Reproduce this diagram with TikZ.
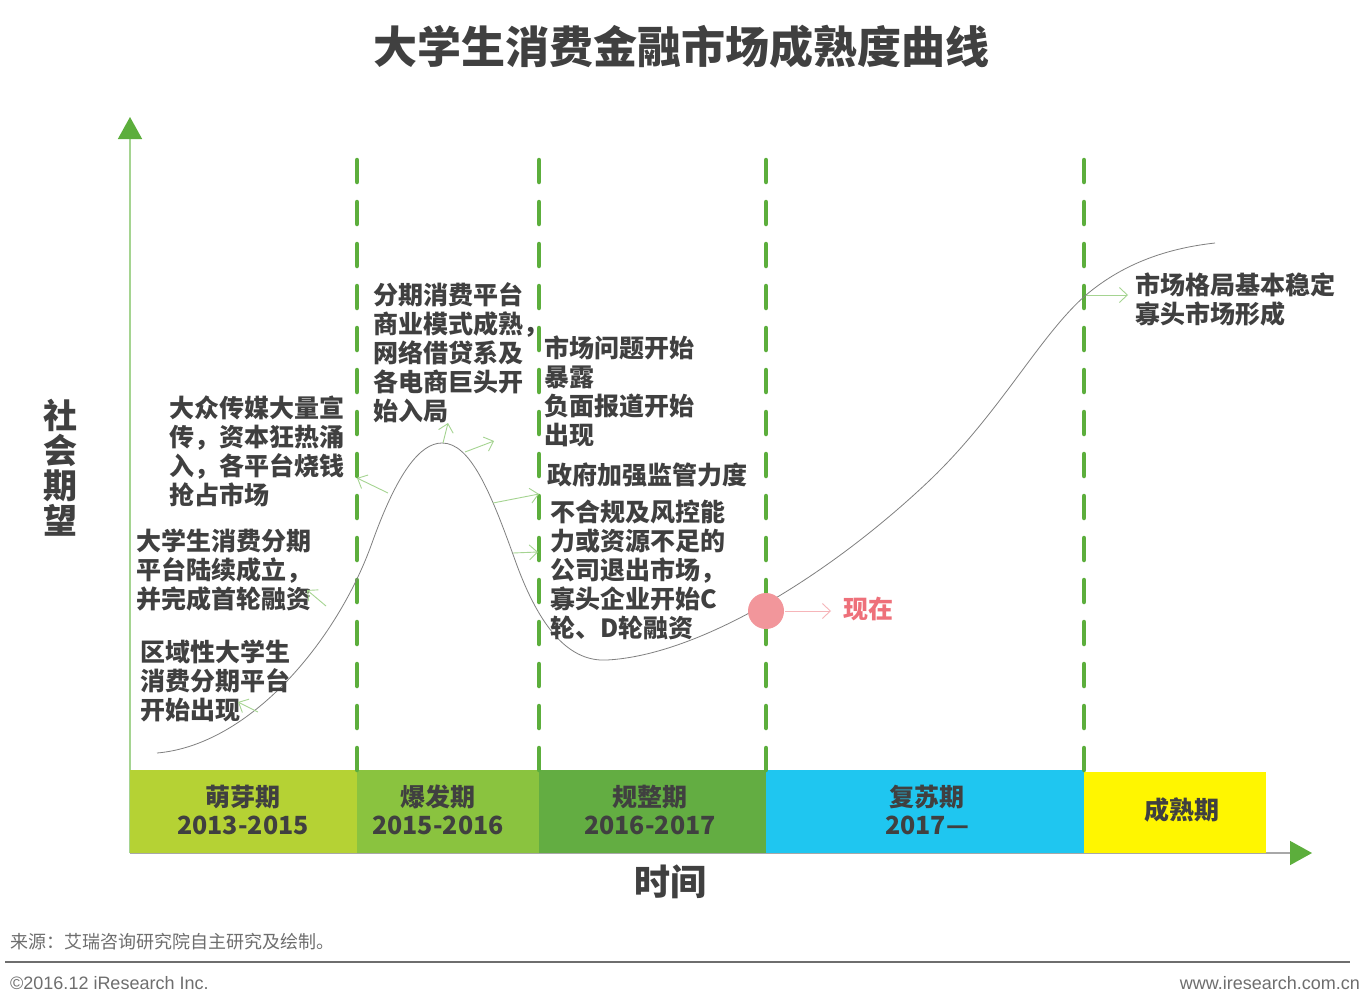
\documentclass[tikz,border=0pt]{standalone}
\usepackage{fontspec}
\setmainfont{Liberation Sans}
\newfontfamily\cjk{Noto Sans CJK SC}
\usetikzlibrary{arrows.meta}
\definecolor{testo}{RGB}{64,64,64}
\definecolor{verde}{RGB}{92,174,60}
\definecolor{verdechiaro}{RGB}{165,212,145}
\definecolor{faseuno}{RGB}{181,210,52}
\definecolor{fasedue}{RGB}{138,195,63}
\definecolor{fasetre}{RGB}{99,173,66}
\definecolor{fasequattro}{RGB}{31,198,240}
\definecolor{fasecinque}{RGB}{255,246,0}
\definecolor{rosa}{RGB}{242,150,155}
\definecolor{rosascuro}{RGB}{238,112,122}
\definecolor{grigio}{RGB}{110,110,110}
\begin{document}
\begin{tikzpicture}[x=1pt,y=-1pt,
    nota/.style={font=\cjk\bfseries\fontsize{25}{29}\selectfont,text=testo,align=left,inner sep=0pt,anchor=north west},
    fase/.style={font=\cjk\bfseries\fontsize{25}{28}\selectfont,text=testo,align=center,inner sep=0pt},
    freccia/.style={draw=verdechiaro,line width=0.9pt,-{Straight Barb[length=8pt,width=15pt]}},
    tratteggio/.style={draw=verde,line width=4.5pt,line cap=round,dash pattern=on 22pt off 20pt}]
    %sfondo
    \useasboundingbox[fill=white](0,0) rectangle (1367,1004);
    %titolo
    \node[font=\cjk\bfseries\fontsize{44}{50}\selectfont,text=testo] (titolo) at (681,47) {大学生消费金融市场成熟度曲线};
    %disegno asse y
    \draw[verdechiaro,line width=1.5pt,-{Triangle[length=22pt,width=24pt,color=verde]}](130,853)--(130,117);
    \node[font=\cjk\bfseries\fontsize{34}{35}\selectfont,text=testo,align=center] (asse y) at (60,468) {社\\会\\期\\望};
    %disegno asse x
    \draw[grigio!60,line width=1.5pt,-{Triangle[length=22pt,width=24pt,color=verde]}](130,853)--(1312,853);
    \node[font=\cjk\bfseries\fontsize{36}{40}\selectfont,text=testo] (asse x) at (670,882) {时间};
    %fasi
    \fill[faseuno](130,770) rectangle (357,853);
    \fill[fasedue](357,770) rectangle (539,853);
    \fill[fasetre](539,770) rectangle (766,853);
    \fill[fasequattro](766,770) rectangle (1084,853);
    \fill[fasecinque](1084,772) rectangle (1266,853);
    \node[fase] (mengya) at (243,810) {萌芽期\\2013-2015};
    \node[fase] (baofa) at (438,810) {爆发期\\2015-2016};
    \node[fase] (guizheng) at (650,810) {规整期\\2016-2017};
    \node[fase] (fusu) at (927,810) {复苏期\\2017—};
    \node[fase] (chengshu) at (1182,810) {成熟期};
    %linee tratteggiate
    \foreach \x in {357,539,766,1084}
        \draw[tratteggio](\x,160)--(\x,780);
    %curva
    \draw[gray,line width=0.8pt](157,753) .. controls (250,745) and (337,641) .. (372,543)
        .. controls (397,473) and (420,443) .. (442,443)
        .. controls (470,443) and (490,490) .. (515,560)
        .. controls (540,630) and (570,662) .. (607,660)
        .. controls (700,655) and (830,575) .. (930,480)
        .. controls (1000,413) and (1040,335) .. (1086,295)
        .. controls (1125,262) and (1170,248) .. (1215,243);
    %punto attuale
    \fill[rosa](766,611) circle (18);
    \node[font=\cjk\bfseries\fontsize{25}{29}\selectfont,text=rosascuro,anchor=west,inner sep=0pt] (ora) at (843,609) {现在};
    %note
    \node[nota] (n1) at (140,640) {区域性大学生\\消费分期平台\\开始出现};
    \node[nota] (n2) at (136,529) {大学生消费分期\\平台陆续成立，\\并完成首轮融资};
    \node[nota] (n3) at (169,396) {大众传媒大量宣\\传，资本狂热涌\\入，各平台烧钱\\抢占市场};
    \node[nota] (n4) at (373,282) {分期消费平台\\商业模式成熟，\\网络借贷系及\\各电商巨头开\\始入局};
    \node[nota] (n5) at (544,336) {市场问题开始\\暴露\\负面报道开始\\出现};
    \node[nota] (n6) at (547,463) {政府加强监管力度};
    \node[nota] (n7) at (550,500) {不合规及风控能\\力或资源不足的\\公司退出市场，\\寡头企业开始C\\轮、D轮融资};
    \node[nota] (n8) at (1135,273) {市场格局基本稳定\\寡头市场形成};
    %frecce
    \coordinate (c1) at (258,712); \coordinate (t1) at (238,702);
    \coordinate (c2) at (326,606); \coordinate (t2) at (307,590);
    \coordinate (c3) at (388,493); \coordinate (t3) at (357,478);
    \coordinate (c4) at (443,443); \coordinate (t4) at (448,423);
    \coordinate (c5) at (465,452); \coordinate (t5) at (494,441);
    \coordinate (c6) at (493,503); \coordinate (t6) at (539,494);
    \coordinate (c7) at (513,553); \coordinate (t7) at (538,552);
    \coordinate (c8) at (1086,295); \coordinate (t8) at (1128,295);
    \foreach \i in {1,...,8}
        \draw[freccia](c\i)--(t\i);
    \coordinate (c9) at (785,611); \coordinate (t9) at (831,611);
    \draw[freccia,draw=rosa!70](c9)--(t9);
    %fonte
    \node[font=\cjk\fontsize{18}{20}\selectfont,text=grigio,anchor=west,inner sep=0pt] (fonte) at (10,942) {来源：艾瑞咨询研究院自主研究及绘制。};
    \draw[grigio,line width=1.5pt](5,962)--(1350,962);
    \node[font=\fontsize{18}{20}\selectfont,text=grigio,anchor=west,inner sep=0pt] (copy) at (10,983) {©2016.12 iResearch Inc.};
    \node[font=\fontsize{18}{20}\selectfont,text=grigio,anchor=east,inner sep=0pt] (sito) at (1360,983) {www.iresearch.com.cn};
\end{tikzpicture}
\end{document}
